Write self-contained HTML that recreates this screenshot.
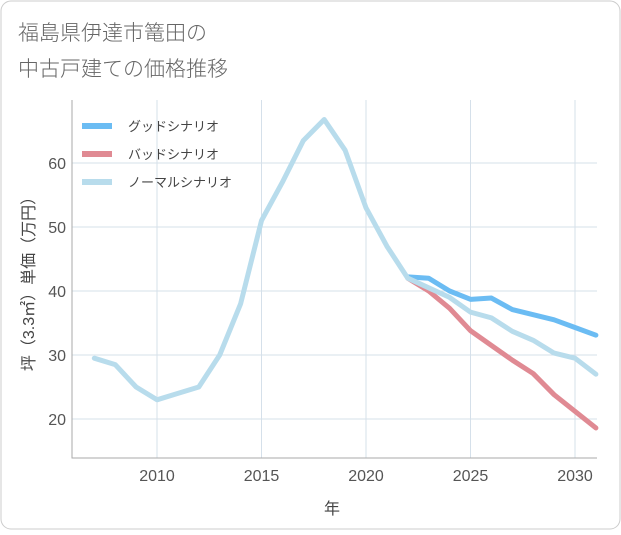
<!DOCTYPE html>
<html><head><meta charset="utf-8"><style>
body{margin:0;background:#fff;font-family:"Liberation Sans","Noto Sans CJK JP",sans-serif;}
</style></head><body>
<svg width="621" height="530" viewBox="0 0 621 530" xmlns="http://www.w3.org/2000/svg" style="font-family:'Liberation Sans','Noto Sans CJK JP',sans-serif">
<rect x="1" y="1" width="619" height="528" rx="10" fill="#fff" stroke="#ccc"/>
<text x="18" y="40" font-size="21" fill="#666" font-weight="300">福島県伊達市篭田の</text>
<text x="18" y="76" font-size="21" fill="#666" font-weight="300">中古戸建ての価格推移</text>
<g id="grid"></g>
<g id="series"></g>
<g id="legend"></g>
<text x="332" y="514" font-size="16" fill="#444" text-anchor="middle">年</text>
<text transform="translate(34,280) rotate(-90)" font-size="16" fill="#444" text-anchor="middle">坪（3.3㎡）単価（万円）</text>
</svg>
<script>
const years=[2007,2008,2009,2010,2011,2012,2013,2014,2015,2016,2017,2018,2019,2020,2021,2022,2023,2024,2025,2026,2027,2028,2029,2030,2031];
const normalVals=[29.5,28.5,25,23,24,25,30,38,51,57,63.5,66.8,62,53,47,42,40.5,39,36.7,35.8,33.7,32.3,30.3,29.5,27];
const futureYears=[2022,2023,2024,2025,2026,2027,2028,2029,2030,2031];
const goodVals=[42.2,42,40,38.7,38.9,37.1,36.3,35.5,34.3,33.1];
const badVals=[42,40,37.3,33.8,31.5,29.2,27.1,23.8,21.2,18.6];
const xTicks=[2010,2015,2020,2025,2030];
const yTicks=[20,30,40,50,60];
const legendLabels=["グッドシナリオ","バッドシナリオ","ノーマルシナリオ"];
const NS="http://www.w3.org/2000/svg";
const L=72,R=597,T=100,B=458;
const X=y=>157+(y-2010)*20.9;
const Y=v=>419-(v-20)*6.4;
function mk(tag,attrs,parent){const e=document.createElementNS(NS,tag);for(const k in attrs)e.setAttribute(k,attrs[k]);parent.appendChild(e);return e;}
const grid=document.getElementById('grid');
xTicks.forEach(t=>{const l=mk('line',{x1:X(t),x2:X(t),y1:T,y2:B,stroke:'#d5e0ea'},grid);


const tx=mk('text',{x:X(t),y:B+23,'font-size':16,fill:'#555','text-anchor':'middle'},grid);tx.textContent=t;

});
yTicks.forEach(t=>{const l=mk('line',{x1:L,x2:R,y1:Y(t),y2:Y(t),stroke:'#d5e0ea'},grid);


const tx=mk('text',{x:L-6,y:Y(t)+6,'font-size':16,fill:'#555','text-anchor':'end'},grid);tx.textContent=t;

});
const ax=mk('path',{d:`M${L},${T}V${B}H${R}`,fill:'none',stroke:'#aaa'},grid);


const ser=document.getElementById('series');
function line(xs,vs,color,name){const p=mk('polyline',{points:xs.map((y,i)=>X(y)+','+Y(vs[i])).join(' '),fill:'none',stroke:color,'stroke-width':5,'stroke-linejoin':'round','stroke-linecap':'round'},ser);

}
line(futureYears,goodVals,'#6bbcf3','good-scenario-line');
line(futureYears,badVals,'#e08a93','bad-scenario-line');
line(years,normalVals,'#b8dcec','normal-scenario-line');
const lg=document.getElementById('legend');const cols=['#6bbcf3','#e08a93','#b8dcec'];
legendLabels.forEach((s,i)=>{const y=126+i*28;
const r=mk('rect',{x:82,y:y-3,width:30,height:6,fill:cols[i]},lg);


const t=mk('text',{x:128,y:y+5,'font-size':13,fill:'#444'},lg);t.textContent=s;

});
</script>
</body></html>
